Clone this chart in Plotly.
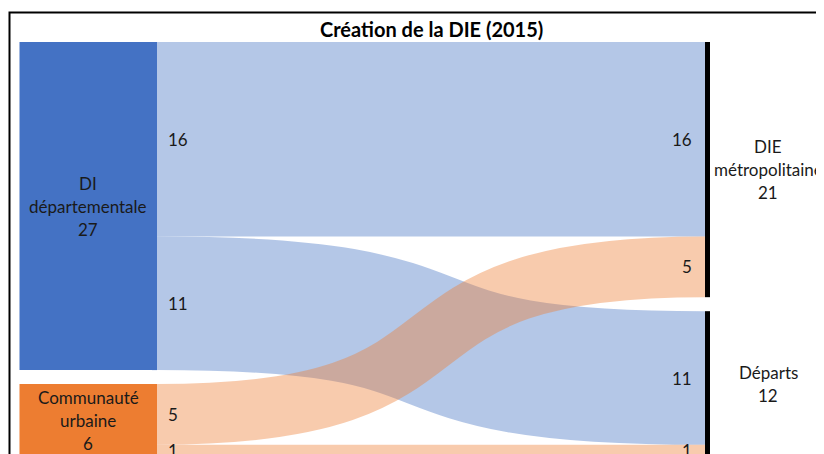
import plotly.graph_objects as go

# ---------------- data ----------------
title_text = "Création de la DIE (2015)"
source_labels = ["DI départementale", "Communauté urbaine"]
target_labels = ["DIE métropolitaine", "Départs"]
link_source = [0, 0, 1, 1]      # index in source_labels
link_target = [0, 1, 0, 1]      # index in target_labels
link_value = [16, 11, 5, 1]

# ---------------- style / geometry ----------------
W, H = 824, 454
OFF = 8                          # page body margin offset
FONT = "Lato"
NODE_COLORS_SRC = ["#4472c4", "#ed7d31"]
NODE_COLOR_TGT = "#000000"
LINK_COLORS = ["rgba(68,114,196,0.4)", "rgba(237,125,49,0.4)"]
X0, X1 = 152.0 - OFF, 710.0 - OFF          # sankey domain in px
TOP, BOTTOM = 42.0 - OFF, 457.0 - OFF
THICK = 5
PAD = 14
BOX_LEFT = 19.5 - OFF
LINE_H = 23
LBL_SIZE = 17
TITLE_SIZE = 20
CURV = 0.65                      # ribbon control-point position (fraction of span)


def px_x(x):
    return x / W


def px_y(y):
    return 1 - y / H


ns, nt = len(source_labels), len(target_labels)
src_tot = [sum(v for s, v in zip(link_source, link_value) if s == i) for i in range(ns)]
tgt_tot = [sum(v for t, v in zip(link_target, link_value) if t == i) for i in range(nt)]
dom_h = BOTTOM - TOP
ky = min((dom_h - (ns - 1) * PAD) / sum(src_tot), (dom_h - (nt - 1) * PAD) / sum(tgt_tot))


def column_tops(totals):
    tops, y = [], 0.0
    for t in totals:
        tops.append(y)
        y += t * ky + PAD
    return tops


src_top = column_tops(src_tot)
tgt_top = column_tops(tgt_tot)

dom_w = X1 - X0
node_x = [THICK / 2 / dom_w] * ns + [1 - THICK / 2 / dom_w] * nt
node_y = [(src_top[i] + src_tot[i] * ky / 2) / dom_h for i in range(ns)] + \
         [(tgt_top[i] + tgt_tot[i] * ky / 2) / dom_h for i in range(nt)]

# Sankey trace carries nodes and link data; ribbons are drawn as stroked curves below
fig = go.Figure(go.Sankey(
    domain=dict(x=[px_x(X0), px_x(X1)], y=[px_y(BOTTOM), px_y(TOP)]),
    arrangement="fixed",
    node=dict(
        label=[""] * (ns + nt),
        customdata=source_labels + target_labels,
        hovertemplate="%{customdata}: %{value}<extra></extra>",
        color=NODE_COLORS_SRC + [NODE_COLOR_TGT] * nt,
        thickness=THICK,
        pad=PAD,
        line=dict(width=0),
        x=node_x,
        y=node_y,
    ),
    link=dict(
        source=link_source,
        target=[ns + t for t in link_target],
        value=link_value,
        color=["rgba(0,0,0,0)"] * len(link_value),
        line=dict(width=0),
    ),
))

shapes = []
annotations = []
text_font = dict(family=FONT, size=LBL_SIZE, color="#1a1a1a")

# ribbons (stroked bezier curves, width proportional to value)
src_off = [0.0] * ns
tgt_off = [0.0] * nt
ys_c, yt_c = {}, {}
for k in sorted(range(len(link_value)), key=lambda k: (link_source[k], link_target[k])):
    s, v = link_source[k], link_value[k]
    ys_c[k] = TOP + src_top[s] + src_off[s] + v * ky / 2
    src_off[s] += v * ky
for k in sorted(range(len(link_value)), key=lambda k: (link_target[k], link_source[k])):
    t, v = link_target[k], link_value[k]
    yt_c[k] = TOP + tgt_top[t] + tgt_off[t] + v * ky / 2
    tgt_off[t] += v * ky

xs, xt = X0 + THICK, X1 - THICK
span = xt - xs
xc1, xc2 = xs + CURV * span, xt - CURV * span
for k in range(len(link_value)):
    ys, yt = ys_c[k], yt_c[k]
    path = (f"M {px_x(xs)},{px_y(ys)} C {px_x(xc1)},{px_y(ys)} "
            f"{px_x(xc2)},{px_y(yt)} {px_x(xt)},{px_y(yt)}")
    shapes.append(dict(type="path", xref="paper", yref="paper", path=path,
                       line=dict(color=LINK_COLORS[link_source[k]], width=link_value[k] * ky),
                       fillcolor="rgba(0,0,0,0)", layer="above"))

# wide source node boxes
for i in range(ns):
    y0 = TOP + src_top[i]
    y1 = y0 + src_tot[i] * ky
    shapes.append(dict(type="rect", xref="paper", yref="paper",
                       x0=px_x(BOX_LEFT), x1=px_x(X0 + THICK),
                       y0=px_y(y1), y1=px_y(y0),
                       fillcolor=NODE_COLORS_SRC[i], line=dict(width=0), layer="above"))


def add_lines(lines, cx, cy):
    n = len(lines)
    for k, txt in enumerate(lines):
        yy = cy + (k - (n - 1) / 2) * LINE_H
        annotations.append(dict(text=txt, x=px_x(cx), y=px_y(yy), xref="paper", yref="paper",
                                xanchor="center", yanchor="middle", showarrow=False,
                                font=text_font))


# node labels
for i, name in enumerate(source_labels):
    cy = TOP + src_top[i] + src_tot[i] * ky / 2
    add_lines(name.split(" ") + [str(src_tot[i])], (BOX_LEFT + X0 + THICK) / 2, cy)
right_lines = [["DIE", "métropolitaine"], ["Départs"]]
for i, name in enumerate(target_labels):
    cy = TOP + tgt_top[i] + tgt_tot[i] * ky / 2
    add_lines(right_lines[i] + [str(tgt_tot[i])], 768 - OFF, cy)

# link value labels
for k in range(len(link_value)):
    v = link_value[k]
    annotations.append(dict(text=str(v), x=px_x(166 - OFF), y=px_y(ys_c[k]), xref="paper",
                            yref="paper", xanchor="left", yanchor="middle", showarrow=False,
                            font=text_font))
    annotations.append(dict(text=str(v), x=px_x(694 - OFF), y=px_y(yt_c[k]), xref="paper",
                            yref="paper", xanchor="right", yanchor="middle", showarrow=False,
                            font=text_font))

# title
annotations.append(dict(text="<b>" + title_text + "</b>", x=px_x(431 - OFF), y=px_y(29 - OFF),
                        xref="paper", yref="paper", xanchor="center", yanchor="middle",
                        showarrow=False, font=dict(family=FONT, size=TITLE_SIZE, color="#000000")))

# chart-area frame
shapes.append(dict(type="rect", xref="paper", yref="paper",
                   x0=px_x(9.5 - OFF), x1=1.05, y0=-0.05, y1=px_y(12.5 - OFF),
                   line=dict(color="#000000", width=2), fillcolor="rgba(0,0,0,0)", layer="above"))

fig.update_layout(
    width=W, height=H,
    margin=dict(l=0, r=0, t=0, b=0),
    paper_bgcolor="white",
    font=dict(family=FONT),
    shapes=shapes,
    annotations=annotations,
    showlegend=False,
)

fig.write_html("out.html")
